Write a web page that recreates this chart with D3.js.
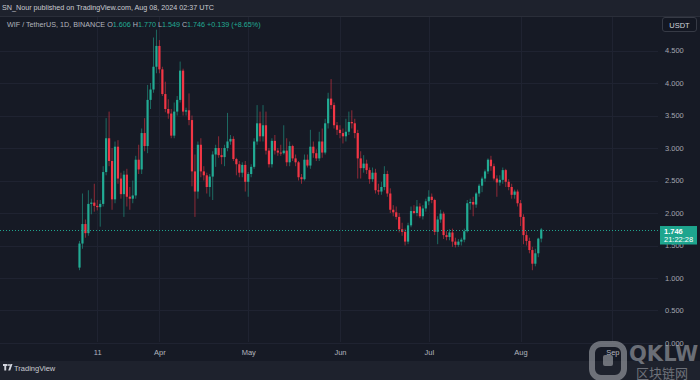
<!DOCTYPE html>
<html><head><meta charset="utf-8">
<script src="https://cdn.jsdelivr.net/npm/d3@7"></script>
<style>html,body{margin:0;padding:0;background:#1e222d;}svg{display:block;}</style>
</head><body>
<svg id="c" width="700" height="380"></svg>
<script>
// ---- data (WIF/USDT, 1D, Binance, from 2024-03-05) ----
const startDay = "2024-03-05";
const openV = [1.16,1.53,1.83,1.69,2.14,2.16,2.11,2.09,2.14,2.63,
3.15,2.80,2.21,3.02,2.53,2.29,2.59,2.25,2.22,2.27,
2.82,2.67,3.23,3.03,3.74,3.90,4.25,4.57,4.21,3.83,
3.60,3.53,3.19,3.56,3.74,4.19,3.56,3.58,3.43,2.64,
2.33,3.05,2.64,2.58,2.40,2.56,2.90,3.00,2.89,2.86,
3.00,3.10,3.14,2.83,2.75,2.62,2.74,2.48,2.60,2.71,
3.10,3.38,3.18,3.35,2.96,2.75,3.11,2.96,2.93,2.92,
2.96,2.78,3.03,2.84,2.78,2.55,2.52,2.82,2.73,3.02,
2.92,2.84,3.10,2.93,3.38,3.76,3.66,3.35,3.28,3.23,
3.18,3.25,3.40,3.38,3.23,2.84,2.69,2.76,2.66,2.52,
2.62,2.35,2.33,2.40,2.60,2.30,2.05,2.01,1.94,1.75,
1.71,1.56,1.81,2.03,2.00,2.10,1.95,2.07,2.18,2.25,
2.20,1.71,1.90,1.99,1.66,1.63,1.70,1.56,1.51,1.56,
1.59,1.72,2.15,2.17,2.13,2.30,2.42,2.53,2.64,2.82,
2.72,2.53,2.47,2.51,2.66,2.48,2.40,2.28,2.33,2.15,
1.94,1.66,1.57,1.43,1.22,1.38,1.606];
const highV = [1.57,2.30,1.90,2.35,2.22,2.45,2.20,2.20,2.72,3.46,
3.56,3.00,3.10,3.12,2.62,2.65,2.68,2.40,2.50,2.88,
3.05,3.30,3.46,3.97,4.00,4.70,4.82,4.66,4.25,4.02,
3.75,3.60,3.70,3.80,4.33,4.22,3.62,3.84,3.50,2.90,
3.10,3.15,2.72,2.62,2.60,2.95,3.05,3.18,3.00,3.05,
3.54,3.20,3.18,2.85,2.80,2.78,2.80,2.63,2.75,3.15,
3.66,3.56,3.66,3.56,3.00,3.15,3.20,3.00,3.05,3.35,
3.15,3.10,3.05,2.90,2.80,2.60,2.90,2.90,3.28,3.10,
2.98,3.25,3.30,3.45,3.85,4.06,3.70,3.40,3.35,3.30,
3.45,3.56,3.58,3.45,3.28,2.95,2.89,2.82,2.70,2.70,
2.68,2.45,2.48,2.72,2.65,2.38,2.12,2.10,2.00,1.85,
1.76,1.85,2.10,2.12,2.20,2.15,2.12,2.22,2.35,2.30,
2.22,1.95,2.05,2.02,1.72,1.75,1.76,1.62,1.60,1.62,
1.76,2.20,2.22,2.25,2.32,2.45,2.56,2.67,2.84,2.88,
2.76,2.58,2.58,2.70,2.68,2.52,2.45,2.36,2.36,2.20,
1.98,1.72,1.62,1.48,1.45,1.62,1.770];
const lowV = [1.12,1.45,1.62,1.65,1.98,2.02,2.04,1.79,2.10,2.58,
2.72,2.05,2.15,2.45,2.22,1.94,2.10,2.05,2.15,2.22,
2.60,2.60,2.95,2.92,3.60,3.85,4.15,4.15,3.80,3.55,
3.45,3.15,3.15,3.50,3.70,3.50,3.50,3.35,2.41,1.94,
2.22,2.55,2.50,2.30,2.25,2.20,2.71,2.85,2.75,2.72,
2.95,3.05,2.80,2.58,2.55,2.55,2.33,2.25,2.55,2.68,
3.05,3.10,3.10,2.90,2.70,2.70,2.90,2.88,2.88,2.90,
2.72,2.72,2.80,2.72,2.50,2.45,2.50,2.70,2.68,2.85,
2.80,2.80,2.85,2.90,3.30,3.60,3.30,3.20,3.15,3.07,
3.10,3.20,3.30,3.15,2.53,2.53,2.62,2.60,2.45,2.48,
2.30,2.28,2.28,2.35,2.25,2.00,1.95,1.90,1.70,1.65,
1.50,1.52,1.78,1.98,1.95,1.92,1.90,2.02,2.12,2.15,
1.66,1.52,1.85,1.60,1.58,1.58,1.48,1.47,1.48,1.50,
1.55,1.70,2.05,1.95,2.08,2.25,2.32,2.48,2.60,2.65,
2.50,2.25,2.42,2.45,2.40,2.35,2.22,2.22,2.10,1.80,
1.52,1.50,1.38,1.12,1.18,1.32,1.549];
const closeV = [1.53,1.83,1.69,2.14,2.16,2.11,2.09,2.14,2.63,3.15,
2.80,2.21,3.02,2.53,2.29,2.59,2.25,2.22,2.27,2.82,
2.67,3.23,3.03,3.74,3.90,4.25,4.57,4.21,3.83,3.60,
3.53,3.19,3.56,3.74,4.19,3.56,3.58,3.43,2.64,2.33,
3.05,2.64,2.58,2.40,2.56,2.90,3.00,2.89,2.86,3.00,
3.10,3.14,2.83,2.75,2.62,2.74,2.48,2.60,2.71,3.10,
3.38,3.18,3.35,2.96,2.75,3.11,2.96,2.93,2.92,2.96,
2.78,3.03,2.84,2.78,2.55,2.52,2.82,2.73,3.02,2.92,
2.84,3.10,2.93,3.38,3.76,3.66,3.35,3.28,3.23,3.18,
3.25,3.40,3.38,3.23,2.84,2.69,2.76,2.66,2.52,2.62,
2.35,2.33,2.40,2.60,2.30,2.05,2.01,1.94,1.75,1.71,
1.56,1.81,2.03,2.00,2.10,1.95,2.07,2.18,2.25,2.20,
1.71,1.90,1.99,1.66,1.63,1.70,1.56,1.51,1.56,1.59,
1.72,2.15,2.17,2.13,2.30,2.42,2.53,2.64,2.82,2.72,
2.53,2.47,2.51,2.66,2.48,2.40,2.28,2.33,2.15,1.94,
1.66,1.57,1.43,1.22,1.38,1.606,1.746];

const priceTicks = [0,0.5,1,1.5,2,2.5,3,3.5,4,4.5];
const timeTickDates = ["2024-03-11","2024-04-01","2024-05-01","2024-06-01","2024-07-01","2024-08-01","2024-09-01"];
const timeTickLabels = ["11","Apr","May","Jun","Jul","Aug","Sep"];
const lastPrice = 1.746;
const countdown = "21:22:28";
const headerText = "SN_Nour published on TradingView.com, Aug 08, 2024 02:37 UTC";
const symbolText = "WIF / TetherUS, 1D, BINANCE";
const ohlcLabels = ["O","H","L","C"];
const ohlcValues = ["1.606","1.770","1.549","1.746"];
const changeText = "+0.139 (+8.65%)";
const currency = "USDT";

// ---- drawing ----
const svg = d3.select("#c");
const W = 700, H = 380;
const font = "'Liberation Sans', Arial, sans-serif";
const up = "#22ab94", down = "#f23645";

const parse = d3.utcParse("%Y-%m-%d");
const t0 = parse(startDay);
const data = openV.map((o,i)=>({date:d3.utcDay.offset(t0,i), o, h:highV[i], l:lowV[i], c:closeV[i]}));

const x = d3.scaleUtc().domain([t0, parse("2024-09-01")]).range([79.5, 612.3]);
const y = d3.scaleLinear().domain([0, 4.5]).range([343, 50.5]);

// backgrounds
svg.append("rect").attr("width",W).attr("height",H).attr("fill","#1e222d");
svg.append("rect").attr("x",0).attr("y",16).attr("width",W).attr("height",345).attr("fill","#161a25");
svg.append("line").attr("x1",0).attr("x2",W).attr("y1",16.5).attr("y2",16.5).attr("stroke","#2a2e39");

const plot = svg.append("g");
svg.append("clipPath").attr("id","clip").append("rect").attr("x",0).attr("y",17).attr("width",658).attr("height",325);

// grid
const tickDates = timeTickDates.map(parse);
plot.append("g").selectAll("line").data(tickDates).join("line")
  .attr("x1",d=>Math.round(x(d))+0.5).attr("x2",d=>Math.round(x(d))+0.5)
  .attr("y1",17).attr("y2",342).attr("stroke","#1f2331");
plot.append("g").selectAll("line").data(priceTicks).join("line")
  .attr("x1",0).attr("x2",658).attr("y1",d=>Math.round(y(d))+0.5).attr("y2",d=>Math.round(y(d))+0.5)
  .attr("stroke","#1f2331");

// candles
const cg = plot.append("g").attr("clip-path","url(#clip)");
const bw = 2.2;
cg.selectAll("line.w").data(data).join("line").attr("class","w")
  .attr("x1",d=>x(d.date)).attr("x2",d=>x(d.date))
  .attr("y1",d=>y(d.h)).attr("y2",d=>y(d.l))
  .attr("stroke",d=>d.c>=d.o?up:down).attr("stroke-opacity",0.55).attr("stroke-width",1);
cg.selectAll("rect.b").data(data).join("rect").attr("class","b")
  .attr("x",d=>x(d.date)-bw/2).attr("width",bw)
  .attr("y",d=>y(Math.max(d.o,d.c)))
  .attr("height",d=>Math.max(1,Math.abs(y(d.o)-y(d.c))))
  .attr("fill",d=>d.c>=d.o?up:down);

// last price dotted line
const ly = Math.round(y(lastPrice)) + 0.5;
svg.append("line").attr("x1",0).attr("x2",660).attr("y1",ly).attr("y2",ly)
  .attr("stroke","#1fa58e").attr("stroke-width",1).attr("stroke-dasharray","1,2");

// price axis
const yAxis = d3.axisRight(y).tickValues(priceTicks).tickFormat(d3.format(".3f")).tickSize(0).tickPadding(0);
const ya = svg.append("g").attr("transform","translate(665,0)").call(yAxis);
ya.select(".domain").remove();
ya.selectAll("text").attr("fill","#a3a6af").attr("font-family",font).attr("font-size",7.5);

// time axis
const xAxis = d3.axisBottom(x).tickValues(tickDates).tickFormat((d,i)=>timeTickLabels[i]).tickSize(0).tickPadding(2);
const xa = svg.append("g").attr("transform","translate(0,348)").call(xAxis);
xa.select(".domain").remove();
xa.selectAll("text").attr("fill","#b2b5be").attr("font-family",font).attr("font-size",7.5);

// last price tag
svg.append("rect").attr("x",660).attr("y",y(lastPrice)-3.5).attr("width",37).attr("height",18.5).attr("fill","#1ea58e");
svg.append("text").attr("x",664).attr("y",y(lastPrice)+4).text(lastPrice.toFixed(3))
  .attr("fill","#ffffff").attr("font-family",font).attr("font-size",7.5).attr("font-weight","bold");
svg.append("text").attr("x",664).attr("y",y(lastPrice)+12.5).text(countdown)
  .attr("fill","#ffffff").attr("font-family",font).attr("font-size",7.5);

// currency box
svg.append("rect").attr("x",662.5).attr("y",17.5).attr("width",34).attr("height",14).attr("rx",2.5)
  .attr("fill","#131722").attr("stroke","#363a45");
svg.append("text").attr("x",679.5).attr("y",27.5).attr("text-anchor","middle").text(currency)
  .attr("fill","#d1d4dc").attr("font-family",font).attr("font-size",7.5);

// header
svg.append("text").attr("x",2).attr("y",10).text(headerText)
  .attr("fill","#c9cbd1").attr("font-family",font).attr("font-size",7.2);
const st = svg.append("text").attr("x",7).attr("y",27).attr("font-family",font).attr("font-size",7.2);
st.append("tspan").attr("fill","#b2b5be").text(symbolText+" ");
ohlcLabels.forEach((l,i)=>{
  st.append("tspan").attr("fill","#b2b5be").text((i?" ":"")+l);
  st.append("tspan").attr("fill",up).text(ohlcValues[i]);
});
st.append("tspan").attr("fill",up).text(" "+changeText);

// bottom TradingView brand
const bg = svg.append("g").attr("transform","translate(3,364)");
bg.append("path").attr("d","M0,0h4.5v2h-1.3v4.5h-1.9v-4.5h-1.3z").attr("fill","#d1d4dc");
bg.append("circle").attr("cx",6).attr("cy",1).attr("r",1).attr("fill","#d1d4dc");
bg.append("path").attr("d","M7.5,0h2l-2.3,6.5h-2z").attr("fill","#d1d4dc");
svg.append("text").attr("x",14).attr("y",370.5).text("TradingView")
  .attr("fill","#c9cbd1").attr("font-family",font).attr("font-size",7.5);

// watermark (site logo)
const wm = svg.append("g").attr("opacity",0.6);
wm.append("rect").attr("x",592).attr("y",344).attr("width",32).attr("height",34).attr("rx",9)
  .attr("fill","none").attr("stroke","#a3a6ac").attr("stroke-width",6);
wm.append("rect").attr("x",603).attr("y",355).attr("width",10).attr("height",11).attr("rx",2)
  .attr("fill","#a3a6ac");
wm.append("text").attr("x",629).attr("y",361).text("QKLW")
  .attr("fill","#a3a6ac").attr("font-family","'DejaVu Sans', sans-serif").attr("font-weight","bold").attr("font-size",21);
wm.append("text").attr("x",636).attr("y",378).text("区块链网")
  .attr("fill","#a3a6ac").attr("font-family","'Noto Sans CJK SC', sans-serif").attr("font-size",13);
</script>
</body></html>
